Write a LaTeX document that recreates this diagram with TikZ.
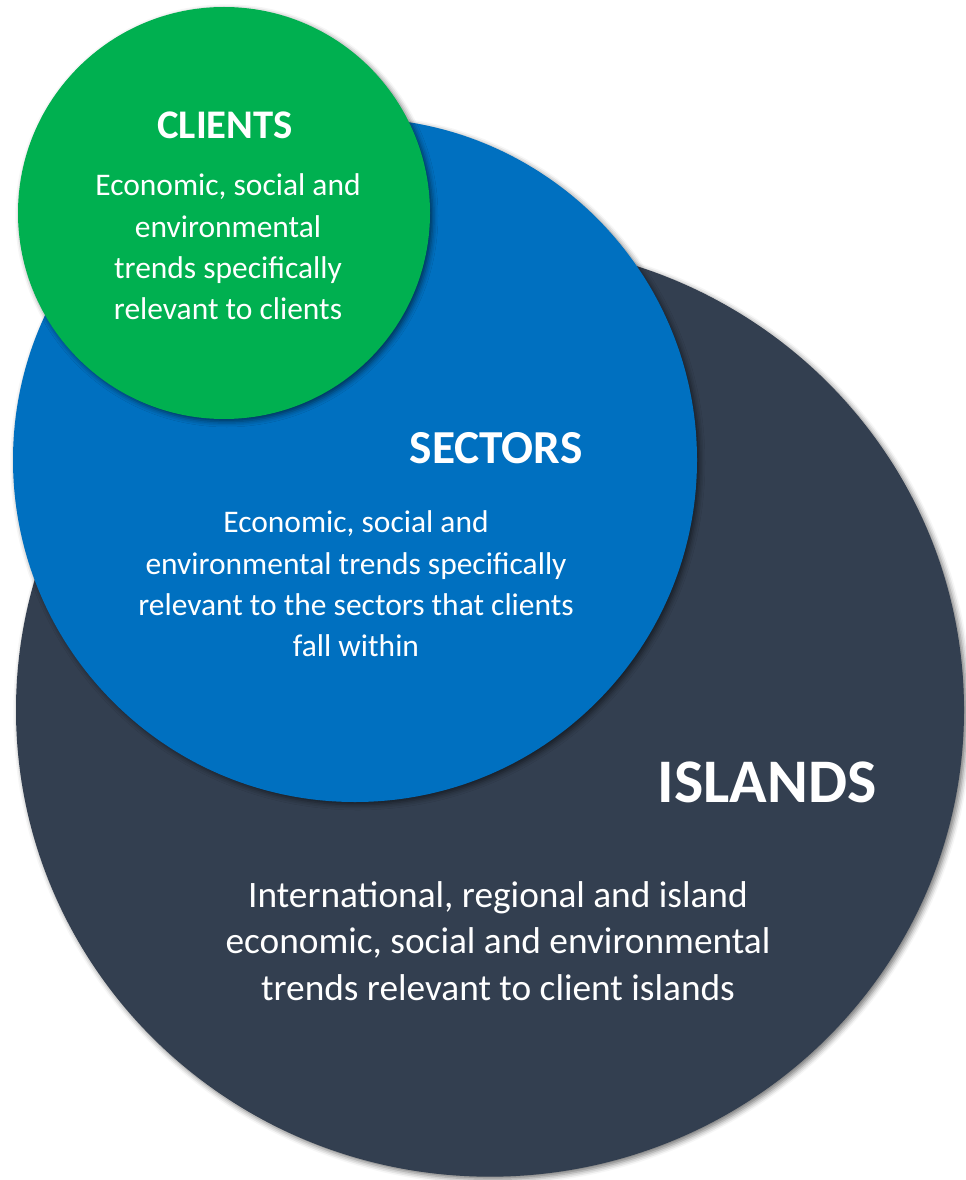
\documentclass[tikz,border=0pt]{standalone}
\usepackage{fontspec}
\setmainfont{Carlito}
\usetikzlibrary{shapes.geometric,shadows.blur}
\definecolor{islandgrey}{HTML}{333F50}
\definecolor{sectorblue}{HTML}{0070C0}
\definecolor{clientgreen}{HTML}{00B050}

\begin{document}
\begin{tikzpicture}[x=0.75pt,y=-0.75pt,
    disc/.style={inner sep=0pt,draw=none,
      blur shadow={shadow xshift=2pt,shadow yshift=-2pt,shadow blur radius=4pt,shadow opacity=55}},
    head/.style={text=white,font=\bfseries\fontsize{30.5}{36}\selectfont},
    body/.style={text=white,align=center,font=\fontsize{23.6}{31}\selectfont}]
    \useasboundingbox (0,0) rectangle (966,1180);

    % the three circles, largest first
    \node[disc,ellipse,fill=islandgrey,minimum width=711pt,minimum height=700pt] (islands) at (490,710) {};
    \node[disc,circle,fill=sectorblue,minimum size=513pt] (sectors) at (355,460) {};
    \node[disc,circle,fill=clientgreen,minimum size=309pt] (clients) at (224,213) {};

    % labels
    \node[head] (clientshead) at (225,125) {CLIENTS};
    \node[body] (clientstext) at (228,247) {Economic, social and\\environmental\\trends specifically\\relevant to clients};

    \node[head,font=\bfseries\fontsize{35.5}{42}\selectfont] (sectorshead) at (496,448) {SECTORS};
    \node[body] (sectorstext) at (356,584) {Economic, social and\\environmental trends specifically\\relevant to the sectors that clients\\fall within};

    \node[head,font=\bfseries\fontsize{46.5}{54}\selectfont] (islandshead) at (767,782) {ISLANDS};
    \node[body,font=\fontsize{28}{35}\selectfont] (islandstext) at (498,941) {International, regional and island\\economic, social and environmental\\trends relevant to client islands};
\end{tikzpicture}
\end{document}
